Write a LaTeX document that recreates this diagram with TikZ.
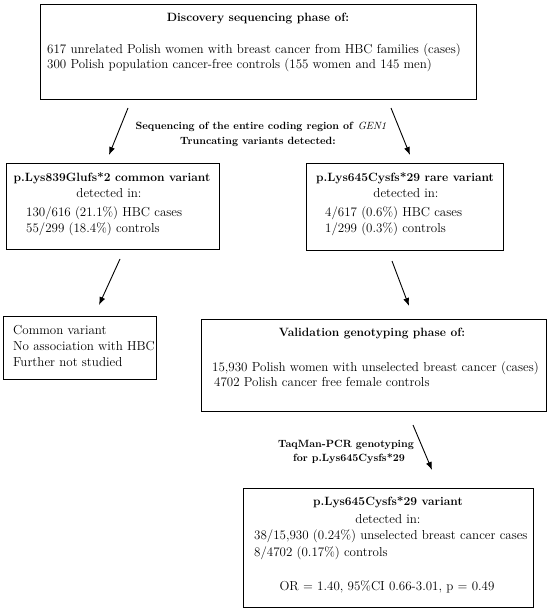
\documentclass[tikz,border=0pt]{standalone}
\usepackage{fontspec}
\usetikzlibrary{arrows.meta}
\begin{document}
\begin{tikzpicture}[x=1pt,y=-1pt,
  box/.style={draw=black,line width=0.9pt,inner sep=0pt,rectangle},
  txt/.style={inner sep=0pt,text height=8.5pt,text depth=2.5pt,font=\fontsize{13}{15}\selectfont},
  btxt/.style={txt,font=\fontsize{12}{14}\selectfont\bfseries},
  ltxt/.style={txt,font=\fontsize{10.5}{12}\selectfont\bfseries},
  arr/.style={line width=0.9pt,-{Latex[length=8pt,width=6pt]}}]
\useasboundingbox (0,0) rectangle (550,612);
% boxes
\node[box,minimum width=436pt,minimum height=95pt] (b1) at (258,51.5) {};
\node[box,minimum width=213pt,minimum height=86pt] (b2) at (112.5,206) {};
\node[box,minimum width=197pt,minimum height=87pt] (b3) at (404.5,206.5) {};
\node[box,minimum width=153pt,minimum height=63pt] (b4) at (79.5,347.5) {};
\node[box,minimum width=345pt,minimum height=92pt] (b5) at (373.5,365) {};
\node[box,minimum width=290pt,minimum height=119pt] (b6) at (388,547.5) {};
% box 1 text
\node[btxt] (t1) at (258,19) {Discovery sequencing phase of:};
\node[txt,anchor=west] (t1a) at (47,51) {617 unrelated Polish women with breast cancer from HBC families (cases)};
\node[txt,anchor=west] (t1b) at (47,66) {300 Polish population cancer-free controls (155 women and 145 men)};
% top label
\node[ltxt] (l1a) at (261,127) {Sequencing of the entire coding region of \textmd{\itshape GEN1}};
\node[ltxt] (l1b) at (258,142) {Truncating variants detected:};
% box 2 text
\node[btxt] (t2) at (112,179) {p.Lys839Glufs*2 common variant};
\node[txt] (t2a) at (109,195) {detected in:};
\node[txt,anchor=west] (t2b) at (26,213) {130/616 (21.1\%) HBC cases};
\node[txt,anchor=west] (t2c) at (26,230) {55/299 (18.4\%) controls};
% box 3 text
\node[btxt] (t3) at (405,179) {p.Lys645Cysfs*29 rare variant};
\node[txt] (t3a) at (406,195) {detected in:};
\node[txt,anchor=west] (t3b) at (325,213) {4/617 (0.6\%) HBC cases};
\node[txt,anchor=west] (t3c) at (325,230) {1/299 (0.3\%) controls};
% box 4 text
\node[txt,anchor=west] (t4a) at (13,331) {Common variant};
\node[txt,anchor=west] (t4b) at (13,347) {No association with HBC};
\node[txt,anchor=west] (t4c) at (13,363) {Further not studied};
% box 5 text
\node[btxt] (t5) at (372,333) {Validation genotyping phase of:};
\node[txt,anchor=west] (t5a) at (212,368) {15,930 Polish women with unselected breast cancer (cases)};
\node[txt,anchor=west] (t5b) at (214,383) {4702 Polish cancer free female controls};
% second label
\node[ltxt] (l2a) at (346,444) {TaqMan-PCR genotyping};
\node[ltxt] (l2b) at (349,458) {for p.Lys645Cysfs*29};
% box 6 text
\node[btxt] (t6) at (388,502) {p.Lys645Cysfs*29 variant};
\node[txt] (t6a) at (388,520) {detected in:};
\node[txt,anchor=west] (t6b) at (254,536) {38/15,930 (0.24\%) unselected breast cancer cases};
\node[txt,anchor=west] (t6c) at (254,553) {8/4702 (0.17\%) controls};
\node[txt] (t6d) at (387,587) {OR = 1.40, 95\%CI 0.66-3.01, p = 0.49};
% arrow end points
\coordinate (a1s) at (128,108); \coordinate (a1e) at (109,155);
\coordinate (a2s) at (391,108); \coordinate (a2e) at (410,155);
\coordinate (a3s) at (120,259); \coordinate (a3e) at (99,305);
\coordinate (a4s) at (392,261); \coordinate (a4e) at (409,306);
\coordinate (a5s) at (413,425); \coordinate (a5e) at (432,470);
\draw[arr] (a1s) -- (a1e);
\draw[arr] (a2s) -- (a2e);
\draw[arr] (a3s) -- (a3e);
\draw[arr] (a4s) -- (a4e);
\draw[arr] (a5s) -- (a5e);
\end{tikzpicture}
\end{document}
